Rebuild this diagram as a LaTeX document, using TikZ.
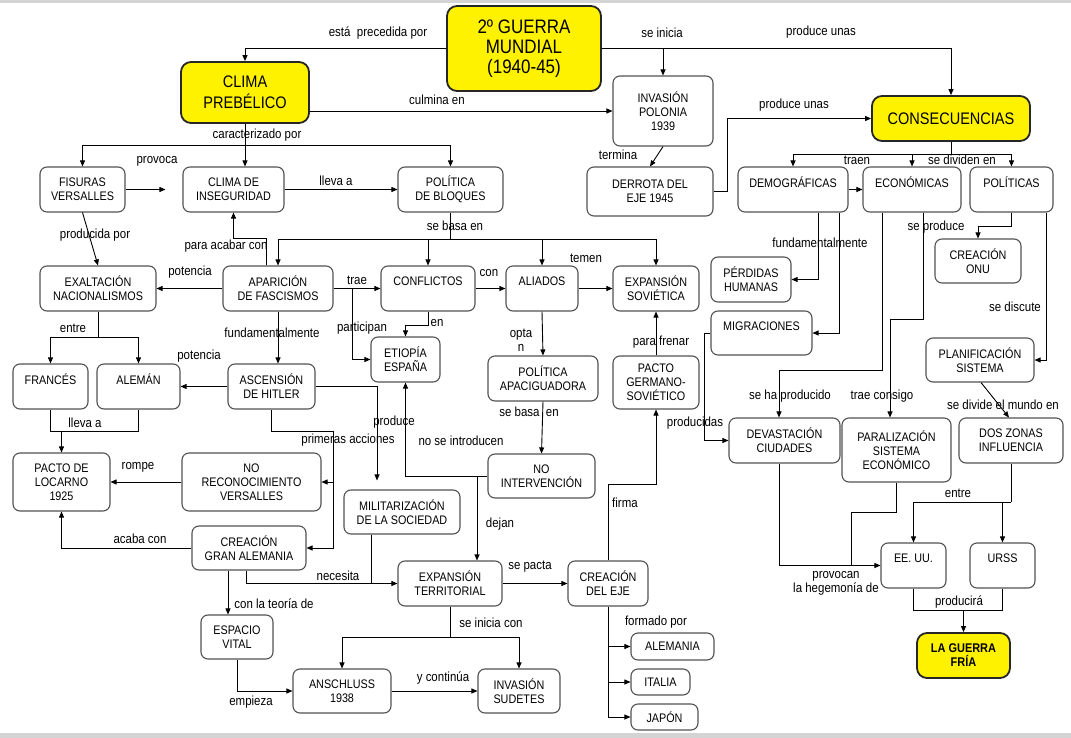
\documentclass[tikz,border=0pt]{standalone}
\usepackage{fontspec}
\setmainfont{Liberation Sans}[FakeStretch=0.87]
\usetikzlibrary{arrows.meta,calc}
\tikzset{
  box/.style={draw=black!68, line width=1.1pt, rounded corners=7pt, fill=white, align=center, inner sep=0pt, font=\fontsize{12.4}{14}\selectfont},
  ybox/.style={box, fill=yellow, draw=black!85, line width=1.8pt, rounded corners=10pt},
  lbl/.style={font=\fontsize{13.2}{13.5}\selectfont, inner sep=0pt, align=center},
  ln/.style={line width=0.9pt},
  arr/.style={ln, -{Triangle[length=6pt,width=5pt]}}
}
\newcommand\mybox[6][]{\node[box,#1,minimum width=#4pt,minimum height=#5pt] (#2) at (#3) {#6};}
\begin{document}
\begin{tikzpicture}[x=1pt,y=-1pt]
\useasboundingbox (0,0) rectangle (1071,738);
\fill[white] (0,0) rectangle (1071,738);
\fill[black!17] (0,0) rectangle (1071,3.5);
\fill[black!17] (0,733) rectangle (1071,738);

% ---- main yellow nodes
\mybox[ybox,font=\fontsize{19.5}{20}\selectfont]{guerra}{524,48.5}{154}{85}{2º GUERRA\\MUNDIAL\\(1940-45)}
\mybox[ybox,font=\fontsize{16.7}{20.5}\selectfont]{clima}{245,92.5}{128}{61}{CLIMA\\PREBÉLICO}
\mybox[ybox,font=\fontsize{16.7}{18}\selectfont]{consec}{951,118.5}{158}{45}{CONSECUENCIAS}
\mybox[ybox,font=\bfseries\fontsize{12.6}{14}\selectfont]{fria}{963.5,655.5}{93}{45}{LA GUERRA\\FRÍA}

% ---- boxes
\mybox{invasion}{663,111}{100}{70}{INVASIÓN\\POLONIA\\1939}
\mybox{derrota}{650,191.5}{126}{49}{DERROTA DEL\\EJE 1945}
\mybox{fisuras}{82.5,189.5}{85}{45}{FISURAS\\VERSALLES}
\mybox{inseg}{233.5,189.5}{101}{45}{CLIMA DE\\INSEGURIDAD}
\mybox{bloques}{450.5,189.5}{105}{45}{POLÍTICA\\DE BLOQUES}
\mybox{demo}{793,189.5}{110}{45}{DEMOGRÁFICAS\\~}
\mybox{econ}{912,189.5}{98}{45}{ECONÓMICAS\\~}
\mybox{poli}{1011.5,189.5}{83}{45}{POLÍTICAS\\~}
\mybox{exalt}{98,288.5}{116}{45}{EXALTACIÓN\\NACIONALISMOS}
\mybox{apar}{278,288.5}{110}{45}{APARICIÓN\\DE FASCISMOS}
\mybox{confl}{428,288.5}{94}{45}{CONFLICTOS\\~}
\mybox{aliados}{542,288.5}{72}{45}{ALIADOS\\~}
\mybox{expsov}{656,288.5}{86}{45}{EXPANSIÓN\\SOVIÉTICA}
\mybox{perdidas}{751,279.5}{80}{45}{PÉRDIDAS\\HUMANAS}
\mybox{onu}{978,261}{86}{44}{CREACIÓN\\ONU}
\mybox{migr}{761.5,333}{101}{44}{MIGRACIONES\\~}
\mybox{etiopia}{405.5,359.5}{69}{45}{ETIOPÍA\\ESPAÑA}
\mybox{apac}{543,378.5}{110}{45}{POLÍTICA\\APACIGUADORA}
\mybox{pacto}{656,382.5}{86}{53}{PACTO\\GERMANO-\\SOVIÉTICO}
\mybox{plan}{980,360}{108}{44}{PLANIFICACIÓN\\SISTEMA}
\mybox{frances}{50.5,386.5}{75}{45}{FRANCÉS\\~}
\mybox{aleman}{138.5,386.5}{83}{45}{ALEMÁN\\~}
\mybox{hitler}{271.5,386.5}{87}{45}{ASCENSIÓN\\DE HITLER}
\mybox{devast}{784.5,440.5}{111}{45}{DEVASTACIÓN\\CIUDADES}
\mybox{paral}{896.5,450}{109}{64}{PARALIZACIÓN\\SISTEMA\\ECONÓMICO}
\mybox{zonas}{1011,440.5}{104}{45}{DOS ZONAS\\INFLUENCIA}
\mybox{locarno}{61.5,482}{97}{58}{PACTO DE\\LOCARNO\\1925}
\mybox{noreco}{251.5,482}{139}{58}{NO\\RECONOCIMIENTO\\VERSALLES}
\mybox{noint}{541.5,476}{107}{44}{NO\\INTERVENCIÓN}
\mybox{milit}{402,512}{116}{44}{MILITARIZACIÓN\\DE LA SOCIEDAD}
\mybox{gran}{249,548}{114}{44}{CREACIÓN\\GRAN ALEMANIA}
\mybox{eeuu}{913.5,565.5}{65}{45}{EE. UU.\\~}
\mybox{urss}{1002.5,565.5}{65}{45}{URSS\\~}
\mybox{expter}{450,583.5}{104}{45}{EXPANSIÓN\\TERRITORIAL}
\mybox{eje}{608,583.5}{80}{45}{CREACIÓN\\DEL EJE}
\mybox{espacio}{237,637}{72}{44}{ESPACIO\\VITAL}
\mybox{alemania}{672.5,646.5}{83}{27}{ALEMANIA}
\mybox{italia}{660.5,682}{59}{26}{ITALIA}
\mybox{japon}{664.5,717}{67}{26}{JAPÓN}
\mybox{anschluss}{342,691}{98}{44}{ANSCHLUSS\\1938}
\mybox{sudetes}{519,691}{82}{44}{INVASIÓN\\SUDETES}

% ---- helper coordinates
\coordinate (cb) at (245,145);
\coordinate (bb) at (450.5,239);
\coordinate (eb) at (98,337);
\coordinate (lk) at (61.5,431);
\coordinate (pa) at (333,431);
\coordinate (tr) at (352,288.5);
\coordinate (dj) at (477,476);
\coordinate (fm) at (656,484);
\coordinate (eb2) at (450,637);
\coordinate (cs) at (951,154);
\coordinate (zb) at (1011,502);
\coordinate (gf) at (963.5,610);

% ---- connectors: top
\draw[arr] (guerra.west) -| (clima.north);
\draw[arr] (guerra.east) -| (invasion.north);
\draw[arr] (guerra.east) -| (consec.north);
\draw[arr] (clima.east|-invasion.west) -- (invasion.west);
\draw[arr] (invasion.south) -- (derrota.north);
\draw[arr] (derrota.east) -- ++(14,0) |- (consec.west);
\draw[arr] (clima.south) -- (clima.south|-inseg.north);
\draw[arr] (cb) -| (fisuras.north);
\draw[arr] (cb) -| (bloques.north);
\draw[arr, shorten >=17pt] (fisuras.east) -- (inseg.west);
\draw[arr] (inseg.east) -- (bloques.west);
\draw[ln] (bloques.south) -- (bb);
\draw[arr] (bb) -| (apar.north);
\draw[arr] (bb) -| (confl.north);
\draw[arr] (bb) -| (aliados.north);
\draw[arr] (bb) -| (expsov.north);
\draw[arr] ([xshift=-12pt]apar.north) -- ++(0,-27) -| (inseg.south);

% ---- left part
\draw[arr] (fisuras.south) -- (exalt.north);
\draw[arr] (apar.west) -- (exalt.east);
\draw[ln] (exalt.south) -- (eb);
\draw[arr] (eb) -| (frances.north);
\draw[arr] (eb) -| (aleman.north);
\draw[arr] (apar.south) -- (apar.south|-hitler.north);
\draw[arr] (hitler.west) -- (aleman.east);
\draw[ln] (frances.south) -- ++(0,22) -| (aleman.south);
\draw[arr] (lk) -- (locarno.north);
\draw[arr] (noreco.west) -- (locarno.east|-noreco.west);
\draw[arr, shorten >=9pt] (hitler.east) -| ([xshift=-25pt]milit.north);
\draw[ln] (hitler.south) |- (pa);
\draw[arr] (pa) |- (noreco.east);
\draw[arr] (pa) |- (gran.east);
\draw[arr] (gran.west) -| (locarno.south);
\draw[arr] ([xshift=-3pt]gran.south) |- (expter.west);
\draw[ln] ([xshift=-31pt]milit.south) -- ([xshift=-31pt]milit.south|-expter.west);
\draw[arr] ([xshift=-21pt]gran.south) -- ([xshift=-21pt]gran.south|-espacio.north);
\draw[arr] (espacio.south) |- (anschluss.west);

% ---- middle part
\draw[arr] (apar.east) -- (confl.west);
\draw[arr] (tr) |- (etiopia.west);
\draw[arr] (confl.south) -- ++(0,14) -| (etiopia.north);
\draw[arr] (confl.east) -- (aliados.west);
\draw[arr] (aliados.east) -- (expsov.west);
\draw[arr] (aliados.south) -- (apac.north);
\draw[arr] (apac.south) -- (noint.north);
\draw[arr] (noint.west) -| (etiopia.south);
\draw[arr] (dj) -- (dj|-expter.north);
\draw[arr] (expter.east) -- (eje.west);
\draw[arr] (eje.north) |- (fm) -- (pacto.south);
\draw[arr] (pacto.north) -- (expsov.south);
\draw[ln] (expter.south) -- (eb2);
\draw[arr] (eb2) -| (anschluss.north);
\draw[arr] (eb2) -| (sudetes.north);
\draw[arr] (anschluss.east) -- (sudetes.west);
\draw[ln] (eje.south) -- (eje.south|-japon.west);
\draw[arr] (eje.south|-alemania.west) -- (alemania.west);
\draw[arr] (eje.south|-italia.west) -- (italia.west);
\draw[arr] (eje.south|-japon.west) -- (japon.west);

% ---- right part
\draw[ln] (consec.south) -- (cs);
\draw[arr] (cs) -| (demo.north);
\draw[arr] (cs) -| (econ.north);
\draw[arr] (cs) -| (poli.north);
\draw[arr] (demo.east) -- (econ.west);
\draw[arr] ([xshift=25pt]demo.south) |- (perdidas.east);
\draw[arr] ([xshift=46pt]demo.south) |- (migr.east);
\draw[arr] ([xshift=-30pt]econ.south) -- ++(0,158) -| ([xshift=-5.5pt]devast.north);
\draw[arr] ([xshift=11pt]econ.south) -- ++(0,107) -| ([xshift=-6.5pt]paral.north);
\draw[arr] (poli.south) -- ++(0,14) -| (onu.north);
\draw[arr] ([xshift=35pt]poli.south) |- (plan.east);
\draw[arr] ([xshift=1pt]plan.south) -- ([xshift=-2pt]zonas.north);
\draw[arr] (migr.west) -- ++(-6,0) |- (devast.west);
\draw[arr] ([xshift=-5.5pt]devast.south) |- (eeuu.west);
\draw[ln] (paral.south) -- ++(0,30) -| ([xshift=-29.5pt]eeuu.west);
\draw[ln] (zonas.south) -- (zb);
\draw[arr] (zb) -| (eeuu.north);
\draw[arr] (urss.north|-zb) -- (urss.north);
\draw[ln] (eeuu.south) -- ++(0,22) -| (urss.south);
\draw[arr] (gf) -- (fria.north);

% ---- labels
\node[lbl] (l01) at (378,33) {está \ precedida por};
\node[lbl] (l02) at (662,33) {se inicia};
\node[lbl] (l03) at (821,32) {produce unas};
\node[lbl] (l04) at (437,100) {culmina en};
\node[lbl] (l05) at (794,105) {produce unas};
\node[lbl] (l06) at (618,155) {termina};
\node[lbl] (l07) at (257,135) {caracterizado por};
\node[lbl] (l08) at (157,161) {provoca};
\node[lbl] (l09) at (336,181) {lleva a};
\node[lbl] (l10) at (95,235) {producida por};
\node[lbl] (l11) at (226,246) {para acabar con};
\node[lbl] (l12) at (455,226) {se basa en};
\node[lbl] (l13) at (190,272) {potencia};
\node[lbl] (l14) at (73,328) {entre};
\node[lbl] (l15) at (272,333) {fundamentalmente};
\node[lbl] (l16) at (199,356) {potencia};
\node[lbl] (l17) at (85,423) {lleva a};
\node[lbl] (l18) at (138,467) {rompe};
\node[lbl] (l19) at (140,539) {acaba con};
\node[lbl] (l20) at (338,576) {necesita};
\node[lbl] (l21) at (274,604) {con la teoría de};
\node[lbl] (l22) at (251,702) {empieza};
\node[lbl] (l23) at (394,422) {produce};
\node[lbl] (l24) at (348,440) {primeras acciones};
\node[lbl] (l25) at (461,441) {no se introducen};
\node[lbl] (l26) at (500,524) {dejan};
\node[lbl] (l27) at (357,280) {trae};
\node[lbl] (l28) at (362,328) {participan};
\node[lbl] (l29) at (437,323) {en};
\node[lbl] (l30) at (489,273) {con};
\node[lbl] (l31) at (586,258) {temen};
\node[lbl] (l32) at (521,340) {opta\\n};
\node[lbl] (l33) at (529,412) {se basa \ en};
\node[lbl] (l34) at (661,342) {para frenar};
\node[lbl] (l35) at (530,567) {se pacta};
\node[lbl] (l36) at (625,503) {firma};
\node[lbl] (l37) at (491,623) {se inicia con};
\node[lbl] (l38) at (443,678) {y continúa};
\node[lbl] (l39) at (656,622) {formado por};
\node[lbl] (l40) at (857,160) {traen};
\node[lbl] (l41) at (962,160) {se dividen en};
\node[lbl] (l42) at (820,243) {fundamentalmente};
\node[lbl] (l43) at (936,227) {se produce};
\node[lbl] (l44) at (1015,307) {se discute};
\node[lbl] (l45) at (1003,405) {se divide el mundo en};
\node[lbl] (l46) at (790,396) {se ha producido};
\node[lbl] (l47) at (882,396) {trae consigo};
\node[lbl] (l48) at (695,423) {producidas};
\node[lbl] (l49) at (836,583.5) {provocan\\la hegemonía de};
\node[lbl] (l50) at (958,493) {entre};
\node[lbl] (l51) at (959,602) {producirá};
\end{tikzpicture}
\end{document}
